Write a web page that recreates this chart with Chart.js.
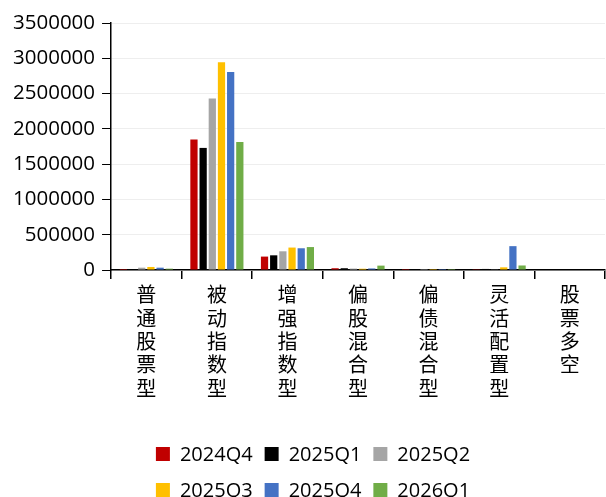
<!DOCTYPE html>
<html>
<head>
<meta charset="utf-8">
<script src="https://cdn.jsdelivr.net/npm/chart.js@4.4.0/dist/chart.umd.min.js"></script>
<style>
  html, body { margin: 0; padding: 0; background: #fff; }
  #wrap { width: 606px; height: 497px; }
</style>
</head>
<body>
<div id="wrap"><canvas id="c" width="606" height="497"></canvas></div>
<script>
// Fund categories on the x axis
const categories = ['普通股票型', '被动指数型', '增强指数型', '偏股混合型', '偏债混合型', '灵活配置型', '股票多空'];

// Quarter labels
const quarters = ['2024Q4', '2025Q1', '2025Q2', '2025Q3', '2025Q4', '2026Q1'];

// Values per quarter, one entry per category
const q2024Q4 = [14000, 1850000, 190000, 25000, 1000, 3000, 0];
const q2025Q1 = [14000, 1730000, 208000, 25000, 1000, 15000, 0];
const q2025Q2 = [33000, 2430000, 265000, 20000, 1000, 10000, 0];
const q2025Q3 = [43000, 2945000, 318000, 18000, 1000, 38000, 0];
const q2025Q4 = [33000, 2805000, 308000, 22000, 1000, 338000, 0];
const q2026Q1 = [19000, 1815000, 325000, 62000, 1000, 64000, 0];

// Y axis range
const yMin = 0;
const yMax = 3500000;
const yStep = 500000;

const seriesValues = [q2024Q4, q2025Q1, q2025Q2, q2025Q3, q2025Q4, q2026Q1];
const seriesColors = ['#C00000', '#000000', '#A5A5A5', '#FFC000', '#4472C4', '#70AD47'];

// Two-row legend drawn under the axis labels
const rowLegend = {
  id: 'rowLegend',
  afterDraw(chart) {
    const ctx = chart.ctx;
    const ds = chart.data.datasets;
    const perRow = 3;
    const box = 14, gapText = 10, gapItem = 12;
    ctx.save();
    ctx.font = '20px "Open Sans"';
    ctx.textBaseline = 'middle';
    ctx.textAlign = 'left';
    const rowsY = [chart.height - 43, chart.height - 7];
    const centerX = chart.width / 2 + 10;
    for (let r = 0; r * perRow < ds.length; r++) {
      const items = ds.slice(r * perRow, r * perRow + perRow);
      const widths = items.map(d => box + gapText + ctx.measureText(d.label).width);
      const total = widths.reduce((a, b) => a + b, 0) + gapItem * (items.length - 1);
      let x = centerX - total / 2;
      const y = rowsY[r];
      items.forEach((d, i) => {
        ctx.fillStyle = d.backgroundColor;
        ctx.fillRect(x, y - box / 2, box, box);
        ctx.fillStyle = '#000';
        ctx.fillText(d.label, x + box + gapText, y + 1);
        x += widths[i] + gapItem;
      });
    }
    ctx.restore();
  }
};

new Chart(document.getElementById('c'), {
  type: 'bar',
  data: {
    labels: categories.map(n => Array.from(n)),
    datasets: quarters.map((q, i) => ({
      label: q,
      data: seriesValues[i],
      backgroundColor: seriesColors[i],
      borderWidth: 0,
      categoryPercentage: 0.78,
      barPercentage: 0.79
    }))
  },
  options: {
    responsive: false,
    animation: false,
    layout: { padding: { top: 23, left: 6, right: 1, bottom: 93 } },
    plugins: {
      legend: { display: false },
      tooltip: { enabled: false }
    },
    scales: {
      x: {
        grid: {
          offset: true,
          drawOnChartArea: false,
          drawTicks: true,
          tickLength: 9,
          tickColor: '#000',
          lineWidth: 1.5
        },
        border: { color: '#000', width: 1.5 },
        ticks: {
          autoSkip: false,
          maxRotation: 0,
          minRotation: 0,
          padding: 4,
          color: '#000',
          font: { family: '"Noto Sans CJK SC"', size: 20, lineHeight: 1.17 }
        }
      },
      y: {
        min: yMin,
        max: yMax,
        grid: {
          color: '#eeeeee',
          lineWidth: 1,
          drawTicks: true,
          tickLength: 9,
          tickColor: '#000'
        },
        border: { color: '#000', width: 1.5 },
        ticks: {
          stepSize: yStep,
          padding: 7,
          color: '#000',
          font: { family: '"Open Sans"', size: 20.5 },
          callback: v => String(v)
        }
      }
    }
  },
  plugins: [rowLegend]
});
</script>
</body>
</html>
